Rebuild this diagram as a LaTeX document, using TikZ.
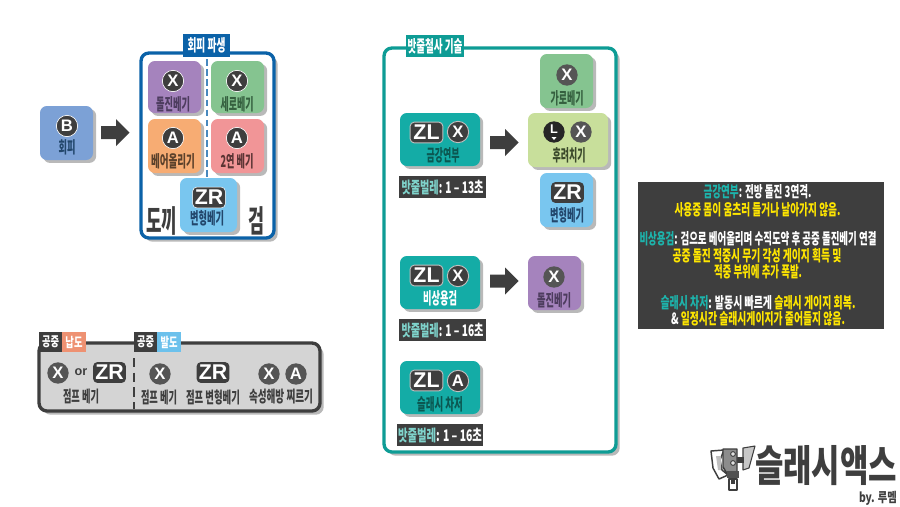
\documentclass[tikz,border=0pt]{standalone}
\usepackage{fontspec}
\usepackage{graphicx}
\setmainfont{Noto Sans CJK KR}[BoldFont={Noto Sans CJK KR Black}]
\newfontfamily\latinbtn{Liberation Sans}
\usetikzlibrary{shadows,calc}

\definecolor{ink}{HTML}{3E3E3E}
\definecolor{shade}{HTML}{B9B9B9}
\definecolor{cblue}{HTML}{0B62A8}
\definecolor{cteal}{HTML}{0E9C95}
\definecolor{tealcard}{HTML}{14ACA6}
\definecolor{cpurple}{HTML}{A583BD}
\definecolor{cgreen}{HTML}{85C490}
\definecolor{corange}{HTML}{F7AC73}
\definecolor{cpink}{HTML}{F19597}
\definecolor{csky}{HTML}{79C6EF}
\definecolor{cdodge}{HTML}{7CA1D6}
\definecolor{clime}{HTML}{C8DF9B}
\definecolor{ttpurple}{HTML}{4D3C5E}
\definecolor{ttgreen}{HTML}{35603F}
\definecolor{ttorange}{HTML}{5C412B}
\definecolor{ttpink}{HTML}{5B3434}
\definecolor{ttsky}{HTML}{22476C}
\definecolor{ttlime}{HTML}{3B4A2B}
\definecolor{ttteal}{HTML}{0B5751}
\definecolor{tabsalmon}{HTML}{EE9172}
\definecolor{tabsky}{HTML}{6CC1EC}
\definecolor{bugteal}{HTML}{7FD3CB}
\definecolor{hiteal}{HTML}{1DB4AC}
\definecolor{hiyellow}{HTML}{FFE600}

% text squeezed horizontally to a width given in pixels
\newcommand{\wtxt}[2]{\resizebox{\dimexpr#1pt*3/4\relax}{\height}{#2}}
\newcommand{\lbl}[7][12.4]{%
  \node[inner sep=0pt,text=#6] (#2) at (#3,#4) {\fontsize{#1}{#1}\selectfont\bfseries\wtxt{#5}{#7}};}

\tikzset{
  cardbox/.style={rounded corners=5.2pt,inner sep=0pt,
    drop shadow={shadow xshift=2.4pt,shadow yshift=-2.2pt,fill=shade,opacity=1}},
  framebox/.style={rounded corners=6pt,line width=2.5pt,fill=white,
    drop shadow={shadow xshift=2.8pt,shadow yshift=-2.8pt,fill=shade,opacity=1}},
  roundbtn/.style={circle,fill=ink,draw=white,line width=.5pt,text=white,
    inner sep=0pt,minimum size=16pt,font=\latinbtn\bfseries\fontsize{12.5}{12.5}\selectfont},
  widebtn/.style={rounded corners=3pt,fill=ink,draw=white,line width=.4pt,text=white,
    inner sep=0pt,minimum width=24.5pt,minimum height=15.5pt,
    font=\latinbtn\bfseries\fontsize{16}{16}\selectfont},
  greybtn/.style={roundbtn,draw=none,fill=ink!88!white},
  tagbox/.style={fill=ink,inner sep=0pt},
  blockarrow/.style={fill=ink},
}

% rounded card between two corners: name, x1, y1, x2, y2, colour
\newcommand{\card}[6]{%
  \node[cardbox,fill=#6,minimum width={(#4-#2)*.75pt},minimum height={(#5-#3)*.75pt}]
    (#1) at ({(#2+#4)/2},{(#3+#5)/2}) {};}
% block arrow: left x, centre y
\newcommand{\barrow}[2]{%
  \fill[blockarrow] (#1,#2-6.5) -- ++(15,0) -- ++(0,-7) -- ++(13.5,13.5) -- ++(-13.5,13.5) -- ++(0,-7) -- ++(-15,0) -- cycle;}
% filled rectangle tag between two corners
\newcommand{\tagrect}[6]{%
  \node[inner sep=0pt,fill=#6,minimum width={(#4-#2)*.75pt},minimum height={(#5-#3)*.75pt}]
    (#1) at ({(#2+#4)/2},{(#3+#5)/2}) {};}

\begin{document}
\begin{tikzpicture}[x=.75pt,y=-.75pt]
\useasboundingbox (0,0) rectangle (900,507);
\fill[white] (0,0) rectangle (900,507);

% ---- evade branch ----
\card{evade}{40}{106}{93}{160}{cdodge}
\node[roundbtn] (evadeB) at (67,126) {B};
\lbl{evadeT}{67}{147}{17}{ttsky}{회피}
\barrow{101}{132.5}

\draw[cblue,framebox] (141,53) rectangle (274,238);
\draw[cblue!75!white,line width=1.4pt,dash pattern=on 5pt off 2.6pt] (207,59) -- (207,235);
\tagrect{evTitle}{183}{34}{230}{57}{cblue}
\lbl{evTitleT}{206.5}{45}{38}{white}{회피 파생}

\card{dash}{148}{61}{201}{113}{cpurple}
\node[roundbtn] (dashX) at (173,81) {X};
\lbl{dashT}{173}{104}{34}{ttpurple}{돌진베기}
\card{vert}{211}{61}{264}{113}{cgreen}
\node[roundbtn] (vertX) at (237,81) {X};
\lbl{vertT}{237}{104}{33}{ttgreen}{세로베기}
\card{rise}{148}{119}{201}{173}{corange}
\node[roundbtn] (riseA) at (173,138) {A};
\lbl{riseT}{173}{161}{44}{ttorange}{베어올리기}
\card{twin}{211}{119}{264}{173}{cpink}
\node[roundbtn] (twinA) at (237,138) {A};
\lbl{twinT}{237}{161}{33}{ttpink}{2연 베기}
\card{morph}{180}{178}{237}{232}{csky}
\node[widebtn] (morphZR) at (209,197.5) {ZR};
\lbl{morphT}{207}{218}{34}{ttsky}{변형베기}
\lbl[23]{axeT}{161.5}{221}{31}{ink}{도끼}
\lbl[23]{swordT}{256}{221}{16}{ink}{검}

% ---- aerial strip ----
\draw[ink,framebox,fill=black!17] (39,343) rectangle (320,411);
\tagrect{tabA}{39}{332}{62}{352}{ink}
\tagrect{tabB}{62}{332}{86}{352}{tabsalmon}
\tagrect{tabC}{134}{332}{157}{352}{ink}
\tagrect{tabD}{157}{332}{181}{352}{tabsky}
\lbl[10]{tabAT}{50.5}{342}{17}{white}{공중}
\lbl[10]{tabBT}{74}{342}{17}{white}{납도}
\lbl[10]{tabCT}{145.5}{342}{17}{white}{공중}
\lbl[10]{tabDT}{169}{342}{17}{white}{발도}
\draw[ink,line width=1.2pt,dash pattern=on 7pt off 4pt] (134,358) -- (134,409);

\node[greybtn] (airX1) at (58,373) {X};
\node[inner sep=0pt,text=ink,font=\latinbtn\bfseries\fontsize{9.5}{9.5}\selectfont] (airOr) at (81,372) {or};
\node[widebtn,draw=none] (airZR1) at (109.5,372.5) {ZR};
\lbl[12]{airT1}{81}{396}{36}{ink}{점프 베기}
\node[greybtn] (airX2) at (160,374) {X};
\node[widebtn,draw=none] (airZR2) at (213,372.5) {ZR};
\node[greybtn] (airX3) at (269,374) {X};
\node[greybtn] (airA) at (296,374) {A};
\lbl[12]{airT2}{159}{397}{36}{ink}{점프 베기}
\lbl[12]{airT3}{213}{397}{54}{ink}{점프 변형베기}
\lbl[12]{airT4}{281}{397}{64}{ink}{속성해방 찌르기}

% ---- wirebug frame ----
\draw[cteal,framebox] (384,48) rectangle (616,452);
\tagrect{wbTitle}{406}{35}{464}{57}{cteal}
\lbl{wbTitleT}{435}{46}{55}{white}{밧줄철사 기술}

% first row
\card{hori}{540}{54}{593}{108}{cgreen}
\node[greybtn] (horiX) at (567,75) {X};
\lbl{horiT}{567}{98}{33}{ttgreen}{가로베기}
\card{gold}{400}{113}{480}{166}{tealcard}
\node[widebtn,draw=white!75!black,line width=.7pt] (goldZL) at (426.5,132.5) {ZL};
\node[roundbtn,draw=white!75!black,line width=.7pt] (goldX) at (458,132) {X};
\lbl{goldT}{443}{155}{33}{ttteal}{금강연부}
\barrow{490}{142.5}
\card{sweep}{528}{113}{608}{167}{clime}
\node[circle,fill=black!85,inner sep=0pt,minimum size=16pt] (sweepL) at (554,132) {};
\node[inner sep=0pt,text=white,font=\latinbtn\bfseries\fontsize{9.5}{9.5}\selectfont] (sweepLT) at (554,129.5) {L};
\fill[white] (551.5,137) -- (556.5,137) -- (554,140) -- cycle;
\node[greybtn] (sweepX) at (581,132) {X};
\lbl{sweepT}{569}{155}{33}{ttlime}{후려치기}
\card{morphB}{540}{173}{593}{227}{csky}
\node[widebtn,draw=none] (morphBZR) at (567.5,192.5) {ZR};
\lbl{morphBT}{567}{215}{34}{ttsky}{변형베기}
\node[tagbox,minimum width=65.2pt,minimum height=16.5pt] (bug1) at (442.5,187) {};
\lbl[12]{bug1T}{442.5}{187}{82}{white}{\textcolor{bugteal}{밧줄벌레}: 1 – 13초}

% second row
\card{soar}{400}{256}{480}{309}{tealcard}
\node[widebtn,draw=white!75!black,line width=.7pt] (soarZL) at (426.5,275.5) {ZL};
\node[roundbtn,draw=white!75!black,line width=.7pt] (soarX) at (458,276) {X};
\lbl{soarT}{440}{298}{34}{white}{비상용검}
\barrow{490}{281}
\card{dashB}{528}{256}{581}{310}{cpurple}
\node[greybtn] (dashBX) at (554,277) {X};
\lbl{dashBT}{554}{300}{34}{ttpurple}{돌진베기}
\node[tagbox,minimum width=65.2pt,minimum height=16.5pt] (bug2) at (442.5,330) {};
\lbl[12]{bug2T}{442.5}{330}{82}{white}{\textcolor{bugteal}{밧줄벌레}: 1 – 16초}

% third row
\card{charge}{400}{361}{480}{414}{tealcard}
\node[widebtn,draw=white!75!black,line width=.7pt] (chargeZL) at (426.5,380.5) {ZL};
\node[roundbtn,draw=white!75!black,line width=.7pt] (chargeA) at (458,381) {A};
\lbl{chargeT}{440}{404}{46}{ttteal}{슬래시 차저}
\node[tagbox,minimum width=64.5pt,minimum height=16.5pt] (bug3) at (440,435) {};
\lbl[12]{bug3T}{440}{435}{84}{white}{\textcolor{bugteal}{밧줄벌레}: 1 – 16초}

% ---- notes panel ----
\tagrect{notes}{638}{182}{884}{329}{ink}
\lbl[11.6]{n1}{757.5}{192}{108}{white}{\textcolor{hiteal}{금강연부}: 전방 돌진 3연격.}
\lbl[11.6]{n2}{757.5}{210}{166}{hiyellow}{사용중 몸이 움츠러 들거나 날아가지 않음.}
\lbl[11.6]{n3}{758}{239}{237}{white}{\textcolor{hiteal}{비상용검}: 검으로 베어올리며 수직도약 후 공중 돌진베기 연결}
\lbl[11.6]{n4}{757}{256}{169}{hiyellow}{공중 돌진 적중시 무기 각성 게이지 획득 및}
\lbl[11.6]{n5}{758}{272}{88}{hiyellow}{적중 부위에 추가 폭발.}
\lbl[11.6]{n6}{758}{303}{195}{white}{\textcolor{hiteal}{슬래시 차저}: 발동시 빠르게 \textcolor{hiyellow}{슬래시 게이지 회복.}}
\lbl[11.6]{n7}{758}{319}{174}{hiyellow}{\textcolor{white}{\&} 일정시간 슬래시게이지가 줄어들지 않음.}

% ---- weapon emblem ----
\begin{scope}[line join=round]
  \draw[ink,fill=white,line width=1.1pt] (724,450) -- (711,451) -- (713,468) -- (719,479) -- (728,475) -- (722,470) -- (720,460) -- cycle;
  \fill[black!25] (716,456) -- (721,456) -- (721,470) -- (718,470) -- cycle;
  \fill[black!22] (743,448) -- (755,446) -- (752,457) -- (749,468) -- (743,470) -- cycle;
  \draw[ink,line width=.8pt] (743,448) -- (755,446) -- (752,457) -- (749,468) -- (743,470) -- cycle;
  \fill[ink] (737,457) rectangle (744,463);
  \draw[ink,fill=black!45,line width=1.1pt] (723,449) -- (737,449) -- (737,474) -- (733,477) -- (726,472) -- (723,467) -- cycle;
  \draw[ink,fill=white,line width=.9pt] (729,479) rectangle (737,490);
  \fill[ink] (731,475) rectangle (735,484);
  \fill[ink!90!white] (727,471) rectangle (739,478);
  \draw[ink,fill=black!12,line width=.7pt] (733,454) circle (2.4);
  \draw[ink,fill=black!12,line width=.7pt] (733,463) circle (2.4);
\end{scope}
\lbl[32]{logoT}{826}{466}{142}{ink}{슬래시액스}
\lbl[10]{logoBy}{878}{498}{38}{ink}{by. 루멤}
\end{tikzpicture}
\end{document}
